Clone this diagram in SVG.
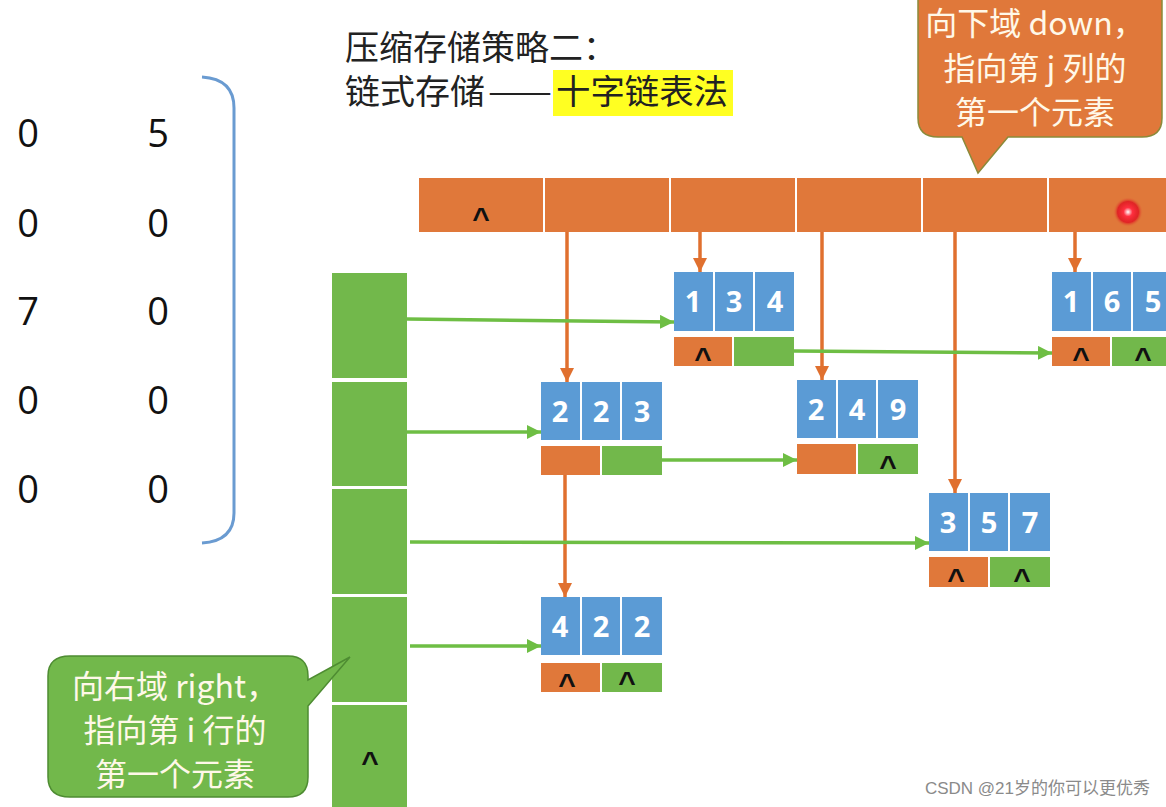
<svg xmlns="http://www.w3.org/2000/svg" width="1166" height="807" viewBox="0 0 1166 807">
<style>
.hdr{fill:#E0783A}
.row{fill:#72B84B}
.blue{fill:#5B9BD5}
.org{fill:#E0783A}
.grn{fill:#72B84B}
.num{font-family:"Open Sans","Liberation Sans",sans-serif;font-weight:700;font-size:29px;fill:#fff;text-anchor:middle}
.nil{font-family:"Liberation Sans",sans-serif;font-weight:700;font-size:30px;fill:#111;text-anchor:middle}
.mat{font-family:"Open Sans","Liberation Sans",sans-serif;font-size:38px;fill:#111;text-anchor:middle}
.ttl{font-family:"Noto Sans CJK SC",sans-serif;font-size:34px;fill:#222}
.call{font-family:"Noto Sans CJK SC",sans-serif;font-size:32px;fill:#FFF8E8;text-anchor:middle}
.oa{stroke:#E0702F;stroke-width:3.5;fill:none}
.ga{stroke:#6EBE44;stroke-width:3.5;fill:none}
</style>
<defs>
<marker id="ah-o" markerUnits="userSpaceOnUse" markerWidth="16" markerHeight="16" refX="14" refY="7" orient="auto">
<path d="M0,0 L14,7 L0,14 Z" fill="#E0702F"/>
</marker>
<marker id="ah-g" markerUnits="userSpaceOnUse" markerWidth="16" markerHeight="16" refX="14" refY="7" orient="auto">
<path d="M0,0 L14,7 L0,14 Z" fill="#6EBE44"/>
</marker>
<radialGradient id="dot">
<stop offset="0" stop-color="#ffffff"/>
<stop offset="0.3" stop-color="#ff3040"/>
<stop offset="0.7" stop-color="#e01020" stop-opacity="0.8"/>
<stop offset="1" stop-color="#e0783a" stop-opacity="0"/>
</radialGradient>
</defs>

<g id="title">
<rect x="553" y="70" width="180" height="46" fill="#FFFF22"/>
<text class="ttl" x="345" y="60">压缩存储策略二：</text>
<text class="ttl" x="345" y="104" textLength="140" lengthAdjust="spacingAndGlyphs">链式存储</text>
<text class="ttl" x="488" y="104" textLength="64" lengthAdjust="spacingAndGlyphs">——</text>
<text class="ttl" x="556" y="104" textLength="172" lengthAdjust="spacingAndGlyphs">十字链表法</text>
</g>

<g id="matrix">
<text class="mat" x="28" y="147">0</text><text class="mat" x="158" y="147">5</text>
<text class="mat" x="28" y="237">0</text><text class="mat" x="158" y="237">0</text>
<text class="mat" x="28" y="325">7</text><text class="mat" x="158" y="325">0</text>
<text class="mat" x="28" y="414">0</text><text class="mat" x="158" y="414">0</text>
<text class="mat" x="28" y="503">0</text><text class="mat" x="158" y="503">0</text>
<path d="M202,77 Q234,79 234,108 L234,513 Q234,541 202,543" fill="none" stroke="#6A9BD1" stroke-width="3"/>
</g>

<g id="col-heads">
<rect class="hdr" x="419" y="178" width="124" height="54"/>
<rect class="hdr" x="545" y="178" width="124" height="54"/>
<rect class="hdr" x="671" y="178" width="124" height="54"/>
<rect class="hdr" x="797" y="178" width="124" height="54"/>
<rect class="hdr" x="923" y="178" width="124" height="54"/>
<rect class="hdr" x="1049" y="178" width="117" height="54"/>
<text class="nil" x="481" y="228">^</text>
<circle cx="1128" cy="212" r="15" fill="url(#dot)"/>
</g>

<g id="row-heads">
<rect class="row" x="332" y="273" width="75" height="105"/>
<rect class="row" x="332" y="382" width="75" height="104"/>
<rect class="row" x="332" y="489" width="75" height="105"/>
<rect class="row" x="332" y="597" width="75" height="105"/>
<rect class="row" x="332" y="705" width="75" height="102"/>
<text class="nil" x="370" y="772">^</text>
</g>

<g id="node-134">
<rect class="blue" x="674" y="272" width="39" height="59"/>
<rect class="blue" x="715" y="272" width="38" height="59"/>
<rect class="blue" x="755" y="272" width="39" height="59"/>
<text class="num" x="693" y="312">1</text><text class="num" x="734" y="312">3</text><text class="num" x="775" y="312">4</text>
<rect class="org" x="674" y="337" width="58" height="29"/>
<rect class="grn" x="734" y="337" width="60" height="29"/>
<text class="nil" x="703" y="368">^</text>
</g>

<g id="node-165">
<rect class="blue" x="1052" y="272" width="39" height="59"/>
<rect class="blue" x="1093" y="272" width="38" height="59"/>
<rect class="blue" x="1133" y="272" width="39" height="59"/>
<text class="num" x="1071" y="312">1</text><text class="num" x="1112" y="312">6</text><text class="num" x="1153" y="312">5</text>
<rect class="org" x="1052" y="337" width="58" height="29"/>
<rect class="grn" x="1112" y="337" width="60" height="29"/>
<text class="nil" x="1081" y="368">^</text>
<text class="nil" x="1143" y="368">^</text>
</g>

<g id="node-223">
<rect class="blue" x="541" y="382" width="39" height="58"/>
<rect class="blue" x="582" y="382" width="38" height="58"/>
<rect class="blue" x="622" y="382" width="40" height="58"/>
<text class="num" x="560" y="422">2</text><text class="num" x="601" y="422">2</text><text class="num" x="642" y="422">3</text>
<rect class="org" x="541" y="446" width="59" height="29"/>
<rect class="grn" x="602" y="446" width="60" height="29"/>
</g>

<g id="node-249">
<rect class="blue" x="797" y="380" width="39" height="58"/>
<rect class="blue" x="838" y="380" width="38" height="58"/>
<rect class="blue" x="878" y="380" width="40" height="58"/>
<text class="num" x="816" y="420">2</text><text class="num" x="857" y="420">4</text><text class="num" x="898" y="420">9</text>
<rect class="org" x="797" y="444" width="59" height="30"/>
<rect class="grn" x="858" y="444" width="60" height="30"/>
<text class="nil" x="888" y="476">^</text>
</g>

<g id="node-357">
<rect class="blue" x="929" y="493" width="39" height="58"/>
<rect class="blue" x="970" y="493" width="38" height="58"/>
<rect class="blue" x="1010" y="493" width="40" height="58"/>
<text class="num" x="948" y="533">3</text><text class="num" x="989" y="533">5</text><text class="num" x="1030" y="533">7</text>
<rect class="org" x="929" y="557" width="59" height="30"/>
<rect class="grn" x="990" y="557" width="60" height="30"/>
<text class="nil" x="956" y="589">^</text>
<text class="nil" x="1022" y="589">^</text>
</g>

<g id="node-422">
<rect class="blue" x="541" y="597" width="39" height="58"/>
<rect class="blue" x="582" y="597" width="38" height="58"/>
<rect class="blue" x="622" y="597" width="40" height="58"/>
<text class="num" x="560" y="637">4</text><text class="num" x="601" y="637">2</text><text class="num" x="642" y="637">2</text>
<rect class="org" x="541" y="663" width="59" height="29"/>
<rect class="grn" x="602" y="663" width="60" height="29"/>
<text class="nil" x="567" y="694">^</text>
<text class="nil" x="627" y="692">^</text>
</g>

<g id="connectors">
<line class="oa" x1="567" y1="232" x2="567" y2="382" marker-end="url(#ah-o)"/>
<line class="oa" x1="700" y1="232" x2="700" y2="272" marker-end="url(#ah-o)"/>
<line class="oa" x1="822" y1="232" x2="822" y2="380" marker-end="url(#ah-o)"/>
<line class="oa" x1="955" y1="232" x2="955" y2="493" marker-end="url(#ah-o)"/>
<line class="oa" x1="1075" y1="232" x2="1075" y2="272" marker-end="url(#ah-o)"/>
<line class="oa" x1="565" y1="475" x2="565" y2="597" marker-end="url(#ah-o)"/>
<line class="ga" x1="407" y1="319" x2="674" y2="322" marker-end="url(#ah-g)"/>
<line class="ga" x1="407" y1="432" x2="541" y2="432" marker-end="url(#ah-g)"/>
<line class="ga" x1="410" y1="542" x2="929" y2="543" marker-end="url(#ah-g)"/>
<line class="ga" x1="410" y1="646" x2="541" y2="646" marker-end="url(#ah-g)"/>
<line class="ga" x1="794" y1="351" x2="1052" y2="353" marker-end="url(#ah-g)"/>
<line class="ga" x1="662" y1="460" x2="797" y2="460" marker-end="url(#ah-g)"/>
</g>

<g id="callout-down">
<path d="M938,-20 L1142,-20 Q1162,-20 1162,0 L1162,118 Q1162,137 1142,137 L1008,137 L978,173 L962,137 L938,137 Q918,137 918,118 L918,0 Q918,-20 938,-20 Z" fill="#E0783A" stroke="#8A8A3A" stroke-width="1.5"/>
<text class="call" x="1035" y="35">向下域 down，</text>
<text class="call" x="1035" y="80">指向第 j 列的</text>
<text class="call" x="1035" y="124">第一个元素</text>
</g>

<g id="callout-right">
<path d="M70,656 L288,656 Q308,656 308,676 L308,680 L350,657 L308,706 L308,777 Q308,797 288,797 L70,797 Q48,797 48,777 L48,676 Q48,656 70,656 Z" fill="#72B84B" stroke="#4E8C32" stroke-width="1.5"/>
<text class="call" x="175" y="698">向右域 right，</text>
<text class="call" x="175" y="742">指向第 i 行的</text>
<text class="call" x="175" y="786">第一个元素</text>
</g>

<text x="1150" y="794" text-anchor="end" font-family="Liberation Sans, Noto Sans CJK SC, sans-serif" font-size="17" fill="#8a8a8a">CSDN @21岁的你可以更优秀</text>
</svg>
